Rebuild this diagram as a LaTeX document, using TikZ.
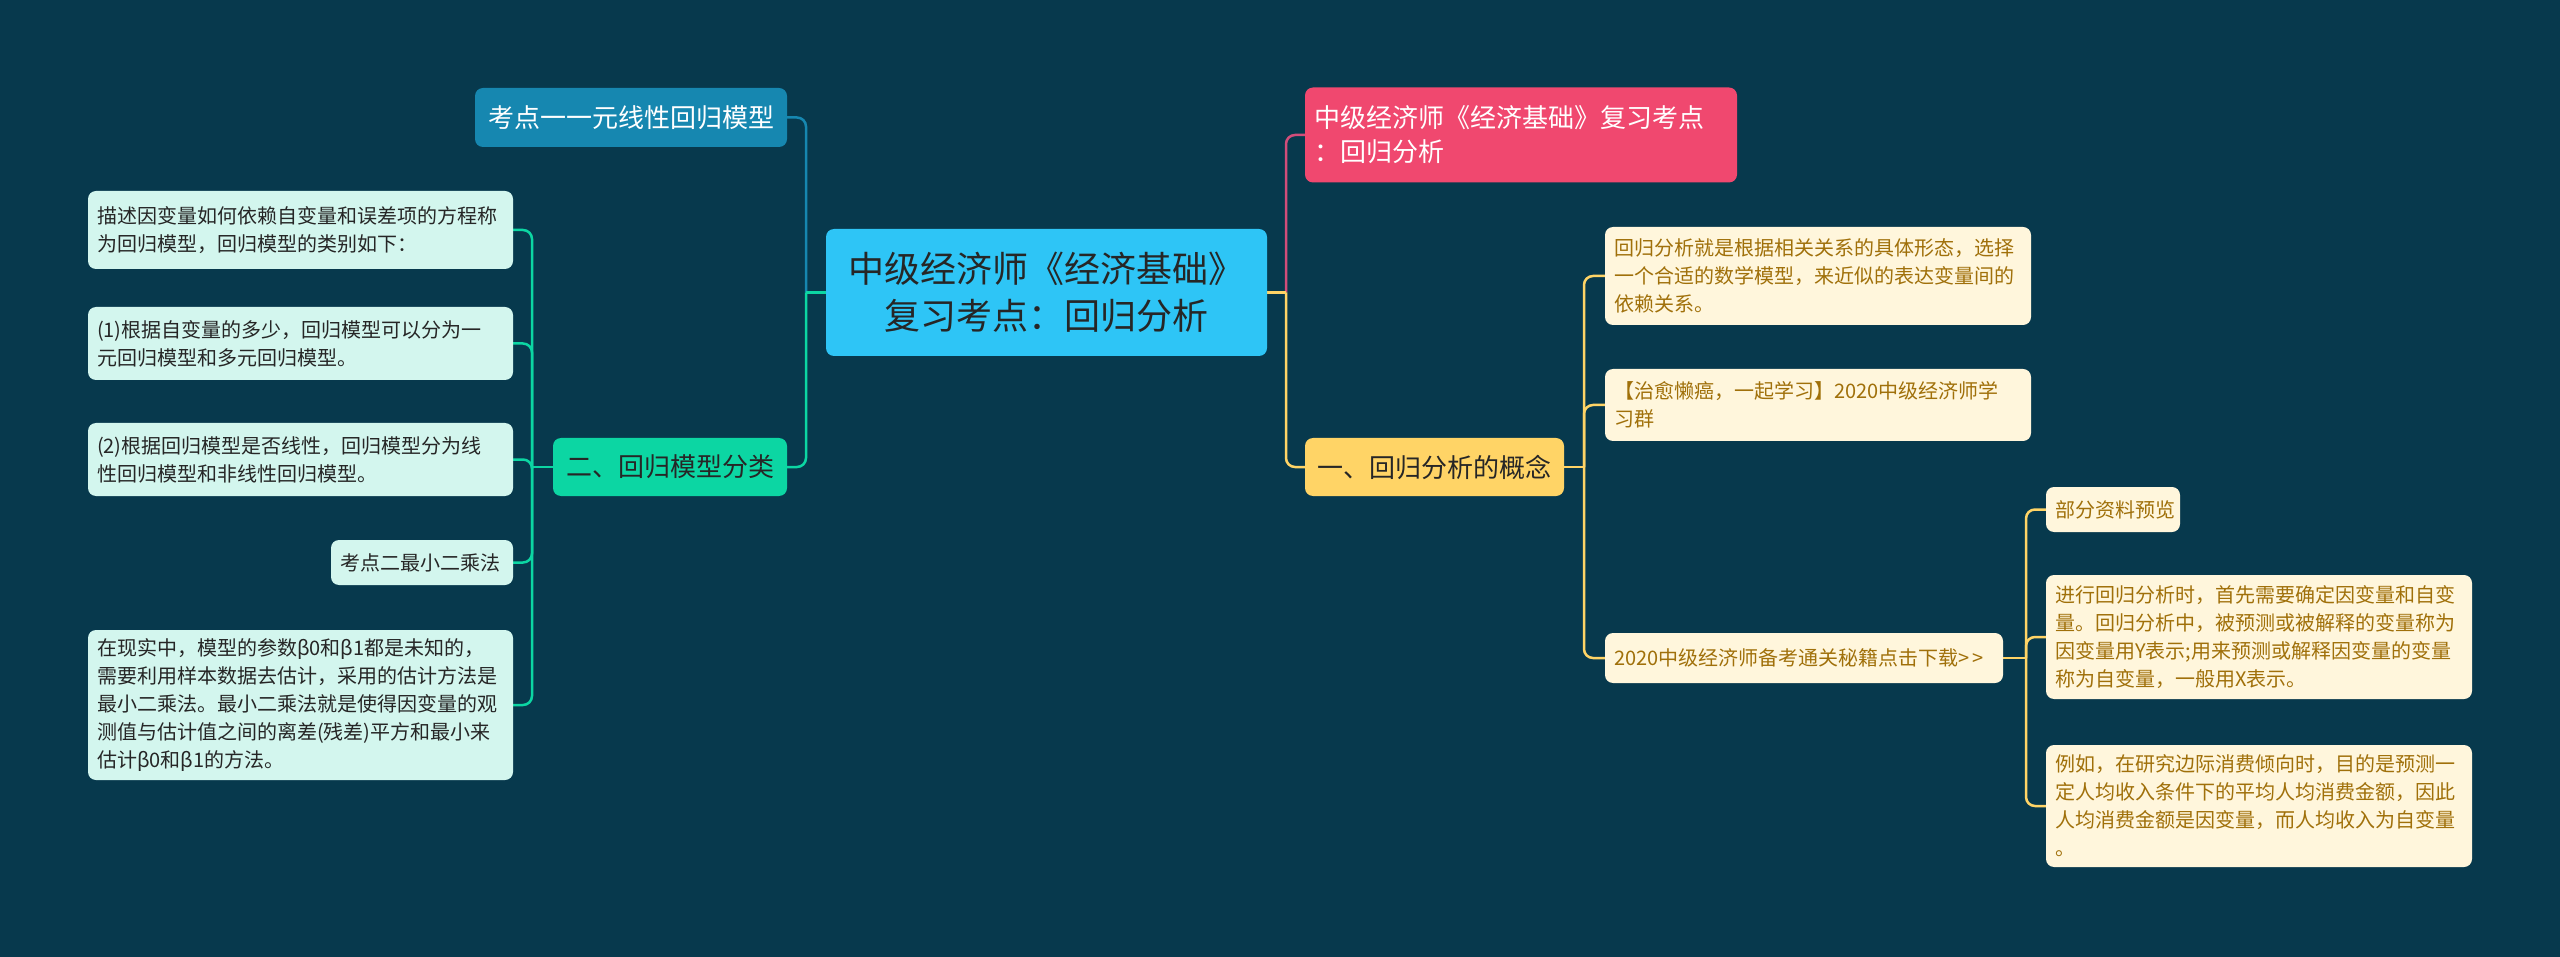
\documentclass[tikz,border=0pt]{standalone}
\usepackage{fontspec}
\setmainfont{Noto Sans CJK SC}
\usetikzlibrary{backgrounds}
\definecolor{bg}{HTML}{07394D}
\definecolor{rootc}{HTML}{2EC5F6}
\definecolor{bluec}{HTML}{1687B0}
\definecolor{greenc}{HTML}{0CD6A3}
\definecolor{mint}{HTML}{D3F6EE}
\definecolor{pinkc}{HTML}{F0486F}
\definecolor{pinkline}{HTML}{D24D7A}
\definecolor{yelc}{HTML}{FFD466}
\definecolor{cream}{HTML}{FFF6DC}
\definecolor{darktext}{HTML}{262626}
\definecolor{browntext}{HTML}{A0700A}
\begin{document}
\begin{tikzpicture}[x=1pt,y=-1pt,
  box/.style={rounded corners=8pt, inner xsep=9pt, inner ysep=0pt, anchor=center},
  rootbox/.style={box, fill=rootc, text=darktext, font=\fontsize{36}{47}\selectfont, align=center},
  mainbox/.style={box, font=\fontsize{26}{34}\selectfont},
  leafL/.style={box, fill=mint, text=darktext, font=\fontsize{20}{28}\selectfont, align=left},
  leafR/.style={box, fill=cream, text=browntext, font=\fontsize{20}{28}\selectfont, align=left},
  conn/.style={line width=2.5pt, rounded corners=9pt}
]
\useasboundingbox (0,0) rectangle (2560,957);

% junction coordinates
\coordinate (jL) at (806,292.5);
\coordinate (jR) at (1286,292.5);
\coordinate (jG) at (532,467);
\coordinate (jY) at (1584,467);
\coordinate (jS) at (2026,658);

% nodes
\node[rootbox, minimum width=441pt, minimum height=127pt, text width=423pt] (root) at (1046.5,292.5)
  {中级经济师《经济基础》\\复习考点：回归分析};

\node[mainbox, fill=bluec, text=white, minimum width=312pt, minimum height=59pt, text width=294pt, align=center] (b1) at (631,117.5)
  {考点一一元线性回归模型};
\node[mainbox, fill=greenc, text=darktext, minimum width=234pt, minimum height=58pt, text width=216pt, align=center] (b2) at (670,467)
  {二、回归模型分类};
\node[mainbox, fill=pinkc, text=white, minimum width=432pt, minimum height=95pt, text width=414pt, align=left] (pk) at (1521,135)
  {中级经济师《经济基础》复习考点\\：回归分析};
\node[mainbox, fill=yelc, text=darktext, minimum width=259pt, minimum height=58pt, text width=241pt, align=center] (yl) at (1434.5,467)
  {一、回归分析的概念};

\node[leafL, minimum width=425pt, minimum height=78pt, text width=407pt] (l1) at (300.5,230)
  {描述因变量如何依赖自变量和误差项的方程称\\为回归模型，回归模型的类别如下：};
\node[leafL, minimum width=425pt, minimum height=73pt, text width=407pt] (l2) at (300.5,343.5)
  {(1)根据自变量的多少，回归模型可以分为一\\元回归模型和多元回归模型。};
\node[leafL, minimum width=425pt, minimum height=73pt, text width=407pt] (l3) at (300.5,459.5)
  {(2)根据回归模型是否线性，回归模型分为线\\性回归模型和非线性回归模型。};
\node[leafL, minimum width=182pt, minimum height=45pt, text width=164pt] (l4) at (422,562.5)
  {考点二最小二乘法};
\node[leafL, minimum width=425pt, minimum height=150pt, text width=407pt] (l5) at (300.5,705)
  {在现实中，模型的参数β0和β1都是未知的，\\需要利用样本数据去估计，采用的估计方法是\\最小二乘法。最小二乘法就是使得因变量的观\\测值与估计值之间的离差(残差)平方和最小来\\估计β0和β1的方法。};

\node[leafR, minimum width=426pt, minimum height=98pt, text width=408pt] (r1) at (1818,276)
  {回归分析就是根据相关关系的具体形态，选择\\一个合适的数学模型，来近似的表达变量间的\\依赖关系。};
\node[leafR, minimum width=426pt, minimum height=72pt, text width=408pt] (r2) at (1818,405)
  {【治愈懒癌，一起学习】2020中级经济师学\\习群};
\node[leafR, minimum width=398pt, minimum height=50pt, text width=380pt] (r3) at (1804,658)
  {2020中级经济师备考通关秘籍点击下载>\,>};

\node[leafR, minimum width=134pt, minimum height=45pt, text width=116pt] (s1) at (2113,509.5)
  {部分资料预览};
\node[leafR, minimum width=426pt, minimum height=124pt, text width=408pt] (s2) at (2259,637)
  {进行回归分析时，首先需要确定因变量和自变\\量。回归分析中，被预测或被解释的变量称为\\因变量用Y表示;用来预测或解释因变量的变量\\称为自变量，一般用X表示。};
\node[leafR, minimum width=426pt, minimum height=122pt, text width=408pt] (s3) at (2259,806)
  {例如，在研究边际消费倾向时，目的是预测一\\定人均收入条件下的平均人均消费金额，因此\\人均消费金额是因变量，而人均收入为自变量\\。};

% connectors and background
\begin{scope}[on background layer]
\fill[bg] (0,0) rectangle (2560,957);
\draw[conn, bluec] (jL) |- (b1.east);
\draw[conn, greenc] (jL) |- (b2.east);
\draw[conn, greenc] (root.west) -- (jL);
\draw[conn, pinkline] (jR) |- (pk.west);
\draw[conn, yelc] (jR) |- (yl.west);
\draw[conn, yelc] (root.east) -- (jR);
\foreach \c in {l1,l2,l3,l4,l5}
  \draw[conn, greenc] (jG) |- (\c.east);
\draw[conn, greenc] (b2.west) -- (jG);
\foreach \c in {r1,r2,r3}
  \draw[conn, yelc] (jY) |- (\c.west);
\draw[conn, yelc] (yl.east) -- (jY);
\foreach \c in {s1,s2,s3}
  \draw[conn, yelc] (jS) |- (\c.west);
\draw[conn, yelc] (r3.east) -- (jS);
\end{scope}
\end{tikzpicture}
\end{document}
